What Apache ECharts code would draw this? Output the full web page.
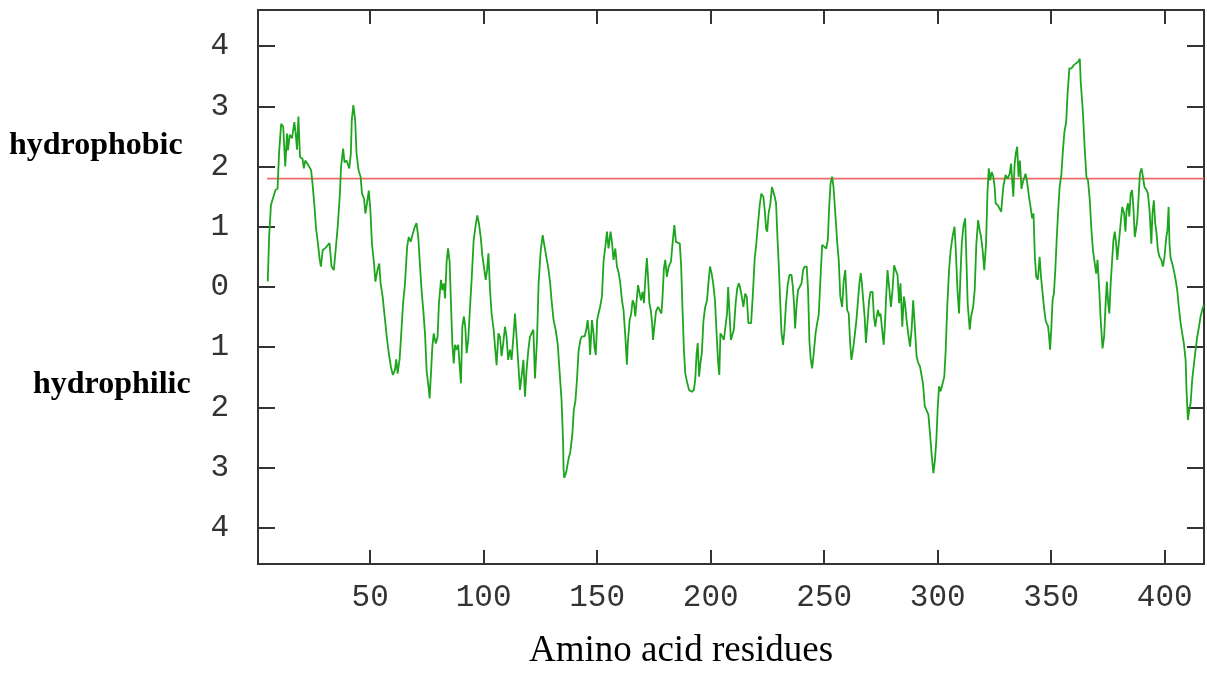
<!DOCTYPE html>
<html>
<head>
<meta charset="utf-8">
<script src="https://cdn.jsdelivr.net/npm/echarts@6/dist/echarts.min.js"></script>
<style>
html,body{margin:0;padding:0;background:#fff;}
#chart{width:1207px;height:678px;}
</style>
</head>
<body>
<div id="chart"></div>
<script>
// ---- data (residue number, hydropathy score) ----
const profileA = [[4.9,0.09],[5.5,0.83],[6.3,1.36],[7.4,1.5],[8.3,1.61],[9.2,1.63],[9.9,2.24],[10.8,2.71],[11.7,2.66],[12.6,2.0],[13.4,2.55],[13.8,2.27],[14.6,2.53],[15.6,2.47],[16.6,2.74],[17.2,2.55],[17.8,2.28],[18.4,2.83],[19.1,2.16],[20.2,2.13],[20.8,1.97],[21.4,2.1],[22.8,2.02],[24.0,1.94],[24.6,1.72],[25.5,1.33],[26.1,1.0],[27.0,0.72],[27.8,0.45],[28.3,0.34],[29.1,0.61],[30.3,0.65],[31.0,0.63],[32.1,0.73],[33.0,0.34],[34.0,0.28],[34.8,0.61],[35.7,1.0],[36.6,1.5],[37.2,2.0],[38.1,2.3],[38.7,2.07],[39.6,2.1],[40.8,1.97],[41.5,2.22],[41.9,2.77],[42.6,3.02],[43.4,2.77],[44.0,2.22],[44.9,1.94],[45.8,1.83],[46.4,1.55],[47.3,1.47],[47.9,1.22],[48.6,1.39],[49.4,1.6],[50.1,1.28],[50.8,0.72],[51.7,0.39],[52.3,0.09],[53.2,0.28],[54.0,0.39],[54.6,0.06],[55.5,-0.16],[56.4,-0.49],[57.3,-0.82],[58.2,-1.1],[59.1,-1.32],[60.0,-1.46],[60.9,-1.38],[61.5,-1.2],[62.1,-1.44],[63.0,-1.19],[63.8,-0.71],[64.5,-0.27],[65.3,0.03],[66.3,0.67],[67.0,0.83],[67.9,0.75],[68.8,0.89],[69.7,1.0]];
const profileB = [[70.4,1.06],[71.2,0.83],[71.8,0.45],[72.7,-0.08],[73.4,-0.38],[74.2,-0.8],[74.9,-1.4],[75.7,-1.65],[76.2,-1.85],[76.8,-1.43],[77.4,-0.99],[78.0,-0.77],[78.9,-0.94],[79.7,-0.83],[80.3,-0.27],[81.2,0.12],[81.8,-0.05],[82.4,0.06],[83.0,-0.19],[83.7,0.42],[84.3,0.64],[85.0,0.42],[85.6,-0.27],[86.2,-0.93],[86.8,-1.27],[87.4,-0.96],[88.1,-1.04],[88.8,-0.96],[89.4,-1.3],[90.0,-1.6],[90.6,-0.66],[91.3,-0.49],[91.9,-0.66],[92.5,-1.1],[93.2,-0.88],[94.0,-0.33],[94.7,0.12],[95.6,0.78],[96.5,1.03],[97.2,1.19],[97.9,1.06],[98.7,0.83],[99.4,0.53],[100.1,0.34],[100.9,0.12],[101.5,0.28],[102.1,0.56],[102.8,-0.05],[103.5,-0.44],[104.4,-0.71],[105.0,-0.99],[105.7,-1.3],[106.5,-0.77],[107.2,-0.83],[107.9,-1.15],[108.6,-0.94],[109.4,-0.66],[110.1,-0.83],[110.8,-1.21],[111.6,-1.04],[112.3,-1.21],[113.1,-0.83],[113.8,-0.44],[114.5,-0.83],[115.3,-1.3],[116.0,-1.71],[116.7,-1.49],[117.5,-1.21],[118.2,-1.82],[118.9,-1.38],[119.7,-1.04],[120.4,-0.83],[121.1,-0.77],[121.9,-0.71],[122.6,-1.52],[123.5,-0.88],[124.2,0.06],[125.1,0.59],[126.0,0.86],[126.7,0.7],[127.6,0.5],[128.5,0.31],[129.3,0.06],[129.9,-0.22],[130.8,-0.55],[131.7,-0.71],[132.6,-0.94],[133.4,-1.38]];
const profileC = [[134.3,-1.87],[135.0,-2.57],[135.2,-3.03],[135.5,-3.17],[136.4,-3.07],[137.3,-2.87],[138.2,-2.73],[139.1,-2.43],[139.7,-2.04],[140.4,-1.9],[141.1,-1.54],[141.8,-1.07],[142.6,-0.88]];
const profileD = [[143.3,-0.82],[144.5,-0.82],[145.2,-0.71],[145.8,-0.55],[146.5,-0.82],[146.9,-1.13],[147.7,-0.55],[148.4,-0.77],[148.8,-0.99],[149.4,-1.13],[150.0,-0.55],[150.6,-0.44],[151.3,-0.33],[152.1,-0.16],[152.8,0.42],[153.6,0.67],[154.3,0.92],[155.0,0.64],[155.9,0.92],[156.5,0.75],[157.2,0.45],[158.0,0.64],[158.7,0.34],[159.4,0.25],[160.2,0.06],[160.9,-0.22],[161.6,-0.38],[162.4,-0.82],[163.1,-1.29],[163.5,-0.93],[164.3,-0.55],[165.0,-0.44],[165.6,-0.22],[166.2,-0.27],[166.8,-0.49],[167.4,-0.22],[168.0,0.03],[168.5,0.0],[169.3,-0.22],[170.0,-0.08],[170.6,-0.27],[171.2,0.12],[171.9,0.48],[172.4,0.17],[173.0,-0.27],[173.6,-0.38],[174.2,-0.6],[174.6,-0.88],[175.2,-0.66],[175.9,-0.41],[176.8,-0.33],[177.5,-0.38],[178.3,-0.44],[178.8,-0.16],[179.4,0.31],[180.0,0.45],[180.7,0.17],[181.5,0.34],[182.5,0.42],[183.2,0.72],[184.0,1.03],[184.7,0.75],[185.5,0.72],[186.4,0.72],[187.0,0.34],[187.6,-0.38],[188.2,-1.04],[188.8,-1.43],[189.7,-1.6],[190.5,-1.71],[191.7,-1.74],[192.6,-1.71],[193.2,-1.54],[193.8,-1.1],[194.3,-0.93],[194.9,-1.49],[195.5,-1.26],[196.1,-1.1],[196.8,-0.57],[197.5,-0.35],[198.4,-0.22],[199.0,0.06],[199.7,0.34],[200.4,0.23],[201.1,0.06],[201.9,-0.22],[202.6,-0.77],[203.3,-1.26],[203.8,-1.46],[204.3,-0.77],[205.1,-0.82],[205.8,-0.88],[206.6,-0.88],[207.2,-0.44],[207.7,0.0],[208.3,-0.44],[208.9,-0.88],[209.5,-0.88],[210.2,-0.71],[211.0,-0.27],[211.7,-0.02],[212.4,0.06]];
const profileE = [[212.9,0.0],[213.7,-0.16],[214.4,-0.33],[215.2,-0.11],[215.9,-0.16],[216.6,-0.6],[217.8,-0.6],[218.6,-0.11],[219.4,0.48],[220.1,0.72],[220.8,1.03],[221.6,1.36],[222.3,1.55],[223.2,1.5],[223.8,1.28],[224.4,0.97],[224.9,0.92],[225.5,1.22],[226.3,1.39],[227.0,1.66],[227.8,1.64],[228.2,1.5],[228.8,1.39],[229.4,0.83],[230.0,0.36],[230.6,-0.22],[231.2,-0.77],[231.9,-0.96],[232.5,-0.71],[233.2,-0.27],[233.9,0.03],[234.7,0.2],[235.6,0.2],[236.2,0.0],[236.7,-0.27],[237.2,-0.69],[237.9,-0.27],[238.5,-0.05],[239.2,0.0],[240.0,0.06],[240.7,0.28],[241.4,0.34],[242.3,0.34],[242.9,-0.05],[243.5,-0.91],[244.1,-1.21],[244.7,-1.35],[245.4,-1.1],[246.2,-0.77],[246.9,-0.6],[247.6,-0.46],[248.4,0.17],[249.1,0.7],[250.0,0.67],[250.9,0.64],[251.6,0.78],[252.2,1.33],[252.8,1.72],[253.5,1.83],[254.1,1.66],[254.7,1.33],[255.3,1.0],[255.7,0.75],[256.4,0.45],[257.1,-0.16],[257.9,-0.33],[258.6,0.11],[259.3,0.28],[260.1,-0.38],[260.8,-0.44],[261.4,-0.91],[262.0,-1.21],[262.7,-1.04],[263.4,-0.82],[264.2,-0.55],[264.9,-0.22],[265.5,0.06],[266.1,0.23],[266.6,0.06],[267.2,-0.22],[267.8,-0.49],[268.4,-0.93],[269.1,-0.93],[269.8,-0.22],[270.4,-0.08],[271.3,-0.08],[271.9,-0.49],[272.5,-0.66],[273.1,-0.49],[273.7,-0.38],[274.3,-0.49],[274.8,-0.44],[275.4,-0.66],[276.2,-0.96],[276.8,-0.6],[277.3,-0.16],[277.9,0.28],[278.6,0.0],[279.4,-0.33],[280.1,-0.05],[280.8,0.36],[281.5,0.28],[282.3,0.2],[283.0,-0.27]];
const profileF = [[283.6,0.06],[284.4,-0.66],[285.1,-0.16],[285.6,-0.27],[286.3,-0.55],[287.0,-0.77],[287.8,-0.99],[288.5,-0.71],[289.2,-0.22],[290.0,-0.71],[290.7,-1.15],[291.4,-1.26],[292.2,-1.32],[292.9,-1.29],[293.5,-1.6],[294.3,-1.98],[295.1,-1.98],[295.9,-2.12],[296.6,-2.43],[297.4,-2.81],[298.1,-3.09],[298.8,-2.87],[299.4,-2.54],[300.0,-2.01],[300.6,-1.65],[301.3,-1.73],[302.0,-1.7],[302.9,-1.49],[303.5,-1.07],[304.2,-0.33],[305.0,0.28],[305.7,0.61],[306.5,0.83],[307.4,1.0],[307.9,0.67],[308.7,-0.05],[309.4,-0.44],[310.0,0.17],[310.6,0.72],[311.3,1.0],[312.1,1.14],[312.7,0.39],[313.2,-0.27],[314.1,-0.71],[314.7,-0.49],[315.6,-0.33],[316.3,-0.05],[317.0,0.7],[317.8,1.11],[318.5,0.94],[319.1,0.83],[319.8,0.61],[320.5,0.28],[321.3,0.72],[321.9,1.55],[322.5,1.97],[323.1,1.77],[323.8,1.91],[324.5,1.83],[325.1,1.66],[325.5,1.39],[326.4,1.36],[327.3,1.3],[328.0,1.25],[328.5,1.5],[329.0,1.69],[329.9,1.86],[330.8,1.8],[331.7,1.88],[332.3,2.05],[332.8,1.77],[333.3,1.5],[333.9,2.05],[334.4,2.22],[335.0,2.33],[335.6,1.83],[336.2,2.1],[336.9,1.63],[337.5,1.74],[338.1,1.77],[338.7,1.88],[339.4,1.74],[340.2,1.5],[340.9,1.33],[341.6,1.14],[342.2,1.22],[342.8,0.5],[343.4,0.17],[344.1,0.12],[344.9,0.5],[345.5,0.17]];
const profileG = [[346.8,-0.33],[347.6,-0.57],[348.6,-0.65],[349.0,-0.8],[349.5,-1.04],[350.1,-0.65],[350.6,-0.22],[351.2,-0.1],[351.8,0.28],[352.4,0.78],[353.0,1.22],[353.7,1.66],[354.5,1.88],[355.1,2.24],[355.8,2.57],[356.6,2.74],[357.2,3.21],[358.0,3.63],[358.9,3.63],[359.8,3.68],[360.8,3.71],[361.9,3.74],[362.6,3.79],[363.0,3.4],[363.9,2.94],[364.8,2.27],[365.5,1.83],[366.2,1.77],[367.0,1.44],[367.7,0.95],[368.4,0.61],[369.2,0.39],[369.8,0.22],[370.4,0.45],[371.1,0.0],[371.8,-0.55],[372.6,-1.02],[373.3,-0.83],[373.9,-0.33],[374.5,0.09],[375.1,-0.27],[375.6,-0.44],[376.2,0.06],[376.8,0.42],[377.4,0.78],[378.0,0.92],[378.6,0.72],[379.1,0.45],[379.9,0.78],[380.6,1.06],[381.3,1.33],[382.1,1.22],[382.7,0.92],[383.2,1.28],[383.8,1.39],[384.4,1.17],[385.0,1.55],[385.6,1.61],[386.2,1.33],[386.8,0.83],[387.3,0.94],[387.9,1.11],[388.5,1.5],[389.1,1.89],[389.8,1.97],[390.4,1.83],[391.1,1.66],[392.0,1.61],[392.6,1.55],[393.3,1.28],[394.1,0.72],[394.6,1.22],[395.2,1.44],[395.8,1.06],[396.4,0.89],[397.0,0.61],[397.7,0.5],[398.5,0.45],[399.2,0.34],[399.9,0.5],[400.7,0.83],[401.2,0.94],[401.7,1.33],[402.1,0.72],[402.6,0.48],[403.3,0.39],[404.0,0.28],[404.8,0.12],[405.5,-0.05],[406.2,-0.33],[407.0,-0.6],[407.7,-0.77],[408.4,-0.93],[409.2,-1.21],[409.6,-1.71],[410.2,-2.21],[410.8,-2.04],[411.4,-1.93],[412.1,-1.54],[412.9,-1.27],[413.6,-1.04],[414.3,-0.83],[415.1,-0.66],[415.8,-0.49],[416.5,-0.38],[417.2,-0.3]];

const thresholdValue = 1.8;
const thresholdStart = 4.6;
const thresholdEnd = 417.3;
const xTicks = [50, 100, 150, 200, 250, 300, 350, 400];
const yTicks = [-4, -3, -2, -1, 0, 1, 2, 3, 4];
const labelTop = 'hydrophobic';
const labelBottom = 'hydrophilic';
const xTitle = 'Amino acid residues';

// ---- chart ----
const profile = [].concat(profileA, profileB, profileC, profileD, profileE, profileF, profileG);
const X_MIN = 0.6, X_MAX = 417.3, Y_MIN = -4.6, Y_MAX = 4.6;
const axisColor = '#333';
const tickFont = { fontFamily: 'Liberation Mono', fontSize: 31, color: '#333' };

const chart = echarts.init(document.getElementById('chart'), null, { renderer: 'canvas' });
chart.setOption({
  animation: false,
  backgroundColor: '#fff',
  grid: { left: 258, right: 3, top: 10, bottom: 114, containLabel: false, outerBoundsMode: 'none' },
  xAxis: [
    {
      type: 'value', min: X_MIN, max: X_MAX, position: 'bottom',
      axisLine: { show: true, onZero: false, lineStyle: { color: axisColor, width: 2 } },
      axisTick: { show: true, inside: true, length: 14, customValues: xTicks, lineStyle: { color: axisColor, width: 2 } },
      axisLabel: Object.assign({ show: true, margin: 18, customValues: xTicks, formatter: v => String(v) }, tickFont),
      splitLine: { show: false }
    },
    {
      type: 'value', min: X_MIN, max: X_MAX, position: 'top',
      axisLine: { show: true, onZero: false, lineStyle: { color: axisColor, width: 2 } },
      axisTick: { show: true, inside: true, length: 14, customValues: xTicks, lineStyle: { color: axisColor, width: 2 } },
      axisLabel: { show: false },
      splitLine: { show: false }
    }
  ],
  yAxis: [
    {
      type: 'value', min: Y_MIN, max: Y_MAX, position: 'left',
      axisLine: { show: true, onZero: false, lineStyle: { color: axisColor, width: 2 } },
      axisTick: { show: true, inside: true, length: 17, customValues: yTicks, lineStyle: { color: axisColor, width: 2 } },
      axisLabel: Object.assign({ show: true, margin: 29, customValues: yTicks, formatter: v => String(Math.abs(Math.round(v))) }, tickFont),
      splitLine: { show: false }
    },
    {
      type: 'value', min: Y_MIN, max: Y_MAX, position: 'right',
      axisLine: { show: true, onZero: false, lineStyle: { color: axisColor, width: 2 } },
      axisTick: { show: true, inside: true, length: 17, customValues: yTicks, lineStyle: { color: axisColor, width: 2 } },
      axisLabel: { show: false },
      splitLine: { show: false }
    }
  ],
  series: [
    {
      type: 'line', name: 'threshold', xAxisIndex: 0, yAxisIndex: 0,
      data: [[thresholdStart, thresholdValue], [thresholdEnd, thresholdValue]],
      symbol: 'none', silent: true, z: 2,
      lineStyle: { color: '#f06a6a', width: 1.6 }
    },
    {
      type: 'line', name: 'hydropathy', xAxisIndex: 0, yAxisIndex: 0,
      data: profile, symbol: 'none', smooth: false, z: 3,
      lineStyle: { color: '#1ea51e', width: 1.8 }
    }
  ],
  graphic: [
    { type: 'text', left: 9, top: 130, style: { text: labelTop, font: 'bold 32px "Liberation Serif"', fill: '#000' } },
    { type: 'text', left: 33, top: 369, style: { text: labelBottom, font: 'bold 32px "Liberation Serif"', fill: '#000' } },
    { type: 'text', left: 529, top: 633, style: { text: xTitle, font: '37px "Liberation Serif"', fill: '#000' } }
  ]
});
</script>
</body>
</html>
